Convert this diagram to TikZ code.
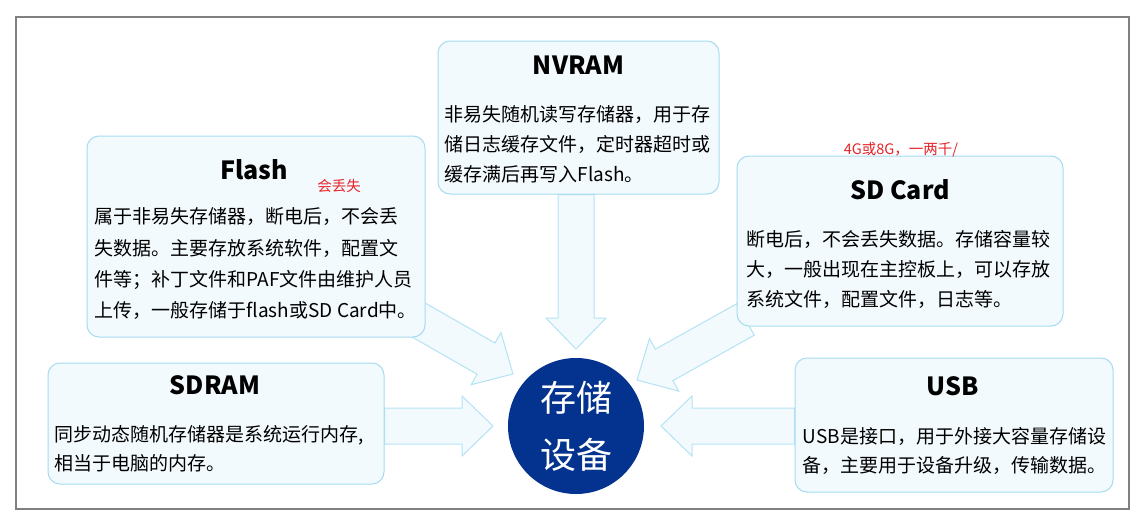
\documentclass[tikz,border=0pt]{standalone}
\usepackage{fontspec}
\setmainfont{Noto Sans CJK SC}
\usetikzlibrary{calc,backgrounds}

\definecolor{boxfill}{HTML}{F3FAFD}
\definecolor{boxline}{HTML}{A6DCEF}
\definecolor{arrowline}{HTML}{B3E3F4}
\definecolor{coreblue}{HTML}{03338F}
\definecolor{framegray}{HTML}{808080}
\definecolor{notered}{HTML}{E52429}

\def\shaftW{18pt}
\def\headW{30pt}
\def\headL{31pt}

% big hollow arrow from #1 to the tip #2
\newcommand\blockarrow[2]{%
  \coordinate (hb) at ($(#2)!\headL!(#1)$);
  \draw[bigarrow] ($(#1)!\shaftW!90:(#2)$) -- ($(hb)!\shaftW!90:(#2)$)
    -- ($(hb)!\headW!90:(#2)$) -- (#2) -- ($(hb)!\headW!-90:(#2)$)
    -- ($(hb)!\shaftW!-90:(#2)$) -- ($(#1)!\shaftW!-90:(#2)$) -- cycle;
}

\begin{document}
\begin{tikzpicture}[x=1pt, y=-1pt,
    infobox/.style={draw=boxline, fill=boxfill, line width=1pt, rounded corners=12pt},
    boxtitle/.style={font=\bfseries\fontsize{25}{30}\selectfont},
    boxtext/.style={anchor=north west, inner sep=0pt, align=left, font=\fontsize{19}{30}\selectfont},
    note/.style={text=notered, inner sep=0pt, font=\fontsize{14.5}{16}\selectfont},
    bigarrow/.style={draw=arrowline, fill=boxfill, line width=1pt, line join=miter}]
  \useasboundingbox (0,0) rectangle (1137,525);

  % boxes
  \node[infobox, minimum width=338, minimum height=201] (flash) at (256,236.5) {};
  \node[infobox, minimum width=281, minimum height=153] (nvram) at (578.5,117.5) {};
  \node[infobox, minimum width=326, minimum height=170] (sd) at (900,241) {};
  \node[infobox, minimum width=336, minimum height=121] (sdram) at (216,423.5) {};
  \node[infobox, minimum width=318, minimum height=134] (usb) at (954,425) {};
  \node[circle, fill=coreblue, minimum size=136, inner sep=0pt, text=white, align=center,
        font=\fontsize{36}{57}\selectfont] (core) at (576,426) {存储\\设备};

  % titles
  \node[boxtitle] (flasht) at ($(flash.north)+(-2,34)$) {Flash};
  \node[boxtitle] (nvramt) at ($(nvram.north)+(0,25)$) {NVRAM};
  \node[boxtitle] (sdt) at ($(sd.north)+(0,34)$) {SD Card};
  \node[boxtitle] (sdramt) at ($(sdram.north)+(-1,23)$) {SDRAM};
  \node[boxtitle] (usbt) at ($(usb.north)+(-1,29)$) {USB};

  % texts
  \node[boxtext, font=\fontsize{19}{31.3}\selectfont] (flashx) at ($(flash.north west)+(8,72)$)
    {属于非易失存储器，断电后，不会丢\\失数据。主要存放系统软件，配置文\\件等；补丁文件和PAF文件由维护人员\\上传，一般存储于flash或SD Card中。};
  \node[boxtext] (nvramx) at ($(nvram.north west)+(7,65)$)
    {非易失随机读写存储器，用于存\\储日志缓存文件，定时器超时或\\缓存满后再写入Flash。};
  \node[boxtext] (sdx) at ($(sd.north west)+(10,75)$)
    {断电后，不会丢失数据。存储容量较\\大，一般出现在主控板上，可以存放\\系统文件，配置文件，日志等。};
  \node[boxtext, font=\fontsize{19}{29}\selectfont] (sdramx) at ($(sdram.north west)+(7,63)$)
    {同步动态随机存储器是系统运行内存,\\相当于电脑的内存。};
  \node[boxtext, font=\fontsize{19}{29}\selectfont] (usbx) at ($(usb.north west)+(8,70)$)
    {USB是接口，用于外接大容量存储设\\备，主要用于设备升级，传输数据。};

  % red notes
  \node[note] (lose) at (339,186) {会丢失};
  \node[note] (size) at (901,150) {4G或8G，一两千/};

  % arrows behind the boxes
  \coordinate (tipN) at ($(core.center)+(0,-77)$);
  \coordinate (tipW) at ($(core.center)+(-83,0)$);
  \coordinate (tipE) at ($(core.center)+(85,0)$);
  \coordinate (tipNW) at ($(core.center)+(-63,-52)$);
  \coordinate (tipNE) at ($(core.center)+(61,-46)$);
  \coordinate (fromF) at ($(flash.south east)+(-20,-25)$);
  \coordinate (fromS) at ($(sd.south west)+(9,-7)$);
  \begin{pgfonlayer}{background}
    \fill[white] (0,0) rectangle (1137,525);
    \blockarrow{tipN |- nvram.south}{tipN}
    \blockarrow{sdram.east |- tipW}{tipW}
    \blockarrow{usb.west |- tipE}{tipE}
    \blockarrow{fromF}{tipNW}
    \blockarrow{fromS}{tipNE}
  \end{pgfonlayer}

  % frame
  \draw[framegray, line width=2pt] (16,17) rectangle (1129,509);
\end{tikzpicture}
\end{document}
